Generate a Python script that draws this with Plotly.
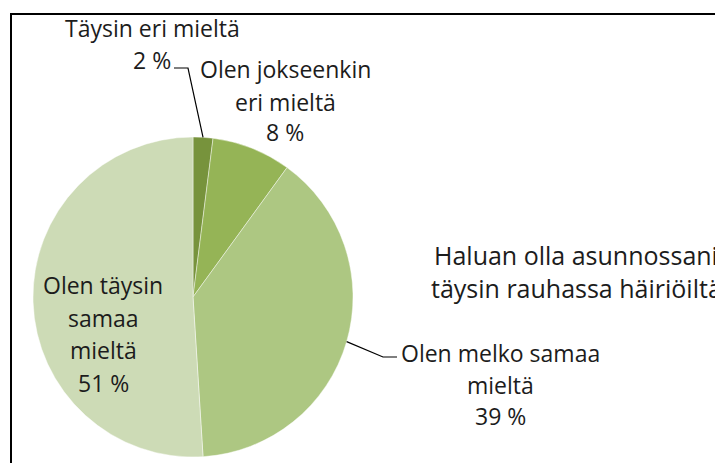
import math
import plotly.graph_objects as go

# ---- data ----
categories = ["Täysin eri mieltä", "Olen jokseenkin eri mieltä",
              "Olen melko samaa mieltä", "Olen täysin samaa mieltä"]
values = [2, 8, 39, 51]
pct_labels = ["2 %", "8 %", "39 %", "51 %"]
colors = ["#77933C", "#95B456", "#ADC782", "#CDDBB6"]
title_lines = ["Haluan olla asunnossani", "täysin rauhassa häiriöiltä"]

W, H = 740, 463
OFF = 8  # page body margin offset
FONT = "Open Sans"
FS = 23
TXT = "#1c1c1c"

def px(x):
    return (x - OFF) / W

def py(y):
    return 1 - (y - OFF) / H

# pie geometry in (screen) pixels
cx, cy, R = 193, 297, 160

fig = go.Figure(go.Pie(
    values=values,
    labels=categories,
    marker=dict(colors=colors, line=dict(color="rgba(255,255,255,0.55)", width=0.8)),
    sort=False,
    direction="clockwise",
    rotation=0,
    textinfo="none",
    hoverinfo="label+percent",
    showlegend=False,
    domain=dict(x=[px(cx - R), px(cx + R)], y=[py(cy + R), py(cy - R)]),
))

annotations = []

def add_lines(lines, x, ys, size=FS):
    for t, y in zip(lines, ys):
        annotations.append(dict(
            text=t, x=px(x), y=py(y), xref="paper", yref="paper",
            showarrow=False, xanchor="center", yanchor="middle",
            font=dict(family=FONT, size=size, color=TXT)))

# label texts
add_lines([categories[0], pct_labels[0]], 152, [28, 60])
add_lines(["Olen jokseenkin", "eri mieltä", pct_labels[1]], 285, [69, 102, 132])
add_lines(["Olen melko samaa", "mieltä", pct_labels[2]], 500, [353, 385, 416])
add_lines(["Olen täysin", "samaa", "mieltä", pct_labels[3]], 103, [285, 318, 350, 383])
add_lines(title_lines, 576, [255, 288], size=25)

# leader lines: start at slice mid-angle on the circumference
total = sum(values)
def mid_point(i):
    cum = sum(values[:i]) + values[i] / 2
    ang = 2 * math.pi * cum / total
    return cx + R * math.sin(ang), cy - R * math.cos(ang)

shapes = []
def leader(i, bend, end):
    sx, sy = mid_point(i)
    pts = [(sx, sy), bend, end]
    path = "M " + " L ".join(f"{px(a)},{py(b)}" for a, b in pts)
    shapes.append(dict(type="path", path=path, xref="paper", yref="paper",
                       line=dict(color="#000000", width=1.2)))

leader(0, (188, 68), (174, 68))
leader(2, (383, 357), (397, 357))

# outer frame
shapes.append(dict(type="rect", xref="paper", yref="paper",
                   x0=px(11), y0=-0.05, x1=1.05, y1=py(14),
                   line=dict(color="#000000", width=2), fillcolor="rgba(0,0,0,0)"))

fig.update_layout(
    width=W, height=H,
    margin=dict(l=0, r=0, t=0, b=0),
    paper_bgcolor="white",
    plot_bgcolor="white",
    annotations=annotations,
    shapes=shapes,
)

fig.write_html("out.html")
